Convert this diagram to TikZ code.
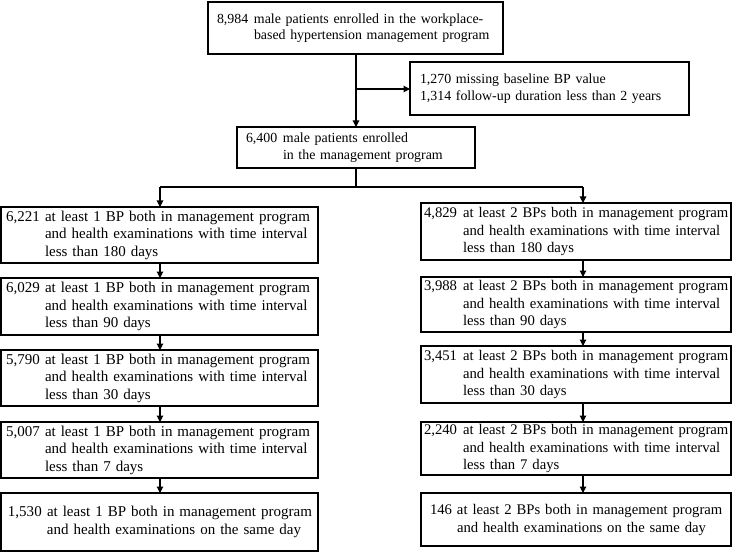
\documentclass[tikz,border=0pt]{standalone}
\usepackage{fontspec}
\setmainfont{Liberation Serif}
\usetikzlibrary{arrows.meta}
\setlength{\parindent}{0pt}
\newcommand\mkbox[9]{%
  \pgfmathsetmacro\bw{#4-#2}%
  \pgfmathsetmacro\bh{#5-#3}%
  \pgfmathsetmacro\tw{#4-#2-2*#6}%
  \node[box, minimum width=\bw pt, minimum height=\bh pt, inner xsep=#6pt,
        text width=\tw pt, font=\fontsize{#7}{#8}\selectfont] (#1) at (#2,#3) {#9};}
\newcommand\fl[3]{\mbox{\makebox[#1][l]{#2}#3}}
\newcommand\cl[2]{\mbox{\hspace*{#1}#2}}
\begin{document}
\begin{tikzpicture}[x=1pt,y=-1pt,
  box/.style={draw, line width=1.2pt, anchor=north west, align=left, inner ysep=0pt, outer sep=0pt},
  arr/.style={line width=1.1pt, -{Triangle[length=6.5pt,width=6.5pt]}},
  ln/.style={line width=1.1pt}]
\useasboundingbox (0,0) rectangle (749,553);
\def\LW{39pt}\def\RW{39pt}
\mkbox{top}{208}{2}{503}{54}{9}{13.9}{16.5}{\fl{37pt}{8,984}{male patients enrolled in the workplace-}\\\cl{37pt}{based hypertension management program}}
\mkbox{excl}{410}{62}{689}{115}{10}{13.9}{16.5}{\mbox{1,270 missing baseline BP value}\\\mbox{1,314 follow-up duration less than 2 years}}
\mkbox{mid}{237}{127}{475}{168}{9}{13.9}{17}{\fl{37pt}{6,400}{male patients enrolled}\\\cl{37pt}{in the management program}}
%
\mkbox{l1}{1}{207}{318}{263}{5}{15.0}{17.5}{\fl{\LW}{6,221}{at least 1 BP both in management program}\\\cl{\LW}{and health examinations with time interval}\\\cl{\LW}{less than 180 days}}
\mkbox{l2}{1}{278}{318}{335}{5}{15.0}{17.5}{\fl{\LW}{6,029}{at least 1 BP both in management program}\\\cl{\LW}{and health examinations with time interval}\\\cl{\LW}{less than 90 days}}
\mkbox{l3}{1}{350}{318}{406}{5}{15.0}{17.5}{\fl{\LW}{5,790}{at least 1 BP both in management program}\\\cl{\LW}{and health examinations with time interval}\\\cl{\LW}{less than 30 days}}
\mkbox{l4}{1}{422}{318}{478}{5}{15.0}{17.5}{\fl{\LW}{5,007}{at least 1 BP both in management program}\\\cl{\LW}{and health examinations with time interval}\\\cl{\LW}{less than 7 days}}
\mkbox{l5}{1}{493}{318}{551}{7}{15.0}{18}{\fl{\LW}{1,530}{at least 1 BP both in management program}\\\cl{\LW}{and health examinations on the same day}}
%
\mkbox{r1}{421}{203}{731}{260}{3}{14.7}{17.5}{\fl{\RW}{4,829}{at least 2 BPs both in management program}\\\cl{\RW}{and health examinations with time interval}\\\cl{\RW}{less than 180 days}}
\mkbox{r2}{421}{277}{731}{332}{3}{14.7}{17.5}{\fl{\RW}{3,988}{at least 2 BPs both in management program}\\\cl{\RW}{and health examinations with time interval}\\\cl{\RW}{less than 90 days}}
\mkbox{r3}{421}{346}{731}{403}{3}{14.7}{17.5}{\fl{\RW}{3,451}{at least 2 BPs both in management program}\\\cl{\RW}{and health examinations with time interval}\\\cl{\RW}{less than 30 days}}
\mkbox{r4}{421}{422}{731}{475}{3}{14.7}{17.5}{\fl{\RW}{2,240}{at least 2 BPs both in management program}\\\cl{\RW}{and health examinations with time interval}\\\cl{\RW}{less than 7 days}}
\mkbox{r5}{421}{493}{731}{546}{9}{14.7}{18}{\fl{27pt}{146}{at least 2 BPs both in management program}\\\cl{27pt}{and health examinations on the same day}}
%
\coordinate (br) at (356,89);
\coordinate (split) at (356,187);
\coordinate (lx) at (160,187);
\coordinate (rx) at (583,187);
\draw[arr] (top.south -| br) -- (mid.north -| br);
\draw[arr] (br) -- (br -| excl.west);
\draw[ln] (mid.south -| split) -- (split);
\draw[ln] (lx) -- (rx);
\draw[arr] (lx) -- (lx |- l1.north);
\draw[arr] (rx) -- (rx |- r1.north);
\draw[arr] (l1.south -| lx) -- (l2.north -| lx);
\draw[arr] (l2.south -| lx) -- (l3.north -| lx);
\draw[arr] (l3.south -| lx) -- (l4.north -| lx);
\draw[arr] (l4.south -| lx) -- (l5.north -| lx);
\draw[arr] (r1.south -| rx) -- (r2.north -| rx);
\draw[arr] (r2.south -| rx) -- (r3.north -| rx);
\draw[arr] (r3.south -| rx) -- (r4.north -| rx);
\draw[arr] (r4.south -| rx) -- (r5.north -| rx);
\end{tikzpicture}
\end{document}
